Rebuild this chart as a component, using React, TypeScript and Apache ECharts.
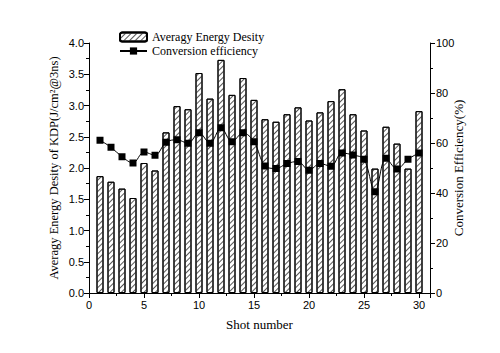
import React, { useEffect, useRef } from "react";
import * as echarts from "echarts";

const shots = [1,2,3,4,5,6,7,8,9,10,11,12,13,14,15,16,17,18,19,20,21,22,23,24,25,26,27,28,29,30];
const energyDensity = [1.87,1.78,1.67,1.52,2.08,1.96,2.57,2.99,2.94,3.52,3.11,3.73,3.17,3.44,3.09,2.78,2.74,2.86,2.97,2.76,2.89,3.07,3.26,2.86,2.60,1.99,2.66,2.39,1.99,2.91];
const conversionEff = [61.1,58.3,54.5,52.0,56.4,55.1,60.3,61.3,59.9,64.1,59.9,66.1,60.5,64.1,60.5,50.8,49.8,51.8,52.6,49.1,51.8,50.7,56.0,55.2,53.5,40.5,53.9,49.6,53.5,56.0];
const xTicks = [0,5,10,15,20,25,30];

const serif = "Liberation Serif";
const sans = "Liberation Sans";

export default function App() {
  const ref = useRef<HTMLDivElement>(null);
  useEffect(() => {
    if (!ref.current) return;
    const chart = echarts.init(ref.current, null, { renderer: "svg" });
    const axisCommon = {
      axisLine: { show: true, lineStyle: { color: "#000", width: 1 } },
      axisTick: { show: true, inside: false, length: 5, lineStyle: { color: "#000" } },
      minorTick: { show: true, splitNumber: 2, length: 3, lineStyle: { color: "#000" } },
      splitLine: { show: false },
      axisLabel: { color: "#000", fontFamily: sans, fontSize: 11 },
      nameTextStyle: { color: "#000", fontFamily: serif, fontSize: 13 },
      nameMoveOverlap: false,
    };
    chart.setOption({
      animation: false,
      backgroundColor: "#fff",
      grid: { left: 89, right: 70, top: 43, bottom: 60 },
      legend: {
        orient: "vertical",
        left: 114,
        top: 26,
        itemGap: 2,
        itemWidth: 27,
        itemHeight: 9,
        textStyle: { color: "#000", fontFamily: serif, fontSize: 12, lineHeight: 12 },
        data: ["Averagy Energy Desity", "Conversion efficiency"],
      },
      xAxis: {
        type: "value",
        min: 0,
        max: 31,
        interval: 5,
        name: "Shot number",
        nameLocation: "middle",
        nameGap: 25,
        ...axisCommon,
        axisLabel: {
          ...axisCommon.axisLabel,
          margin: 6,
          formatter: (v: number) => (xTicks.includes(v) ? String(v) : ""),
        },
      },
      yAxis: [
        {
          type: "value",
          min: 0,
          max: 4,
          interval: 0.5,
          name: "Averagy Energy Desity of KDP(J/cm²@3ns)",
          nameLocation: "middle",
          nameGap: 29,
          nameRotate: 90,
          ...axisCommon,
          nameTextStyle: { color: "#000", fontFamily: serif, fontSize: 12.5 },
          axisLabel: { ...axisCommon.axisLabel, margin: 5, formatter: (v: number) => v.toFixed(1) },
        },
        {
          type: "value",
          min: 0,
          max: 100,
          interval: 20,
          position: "right",
          name: "Conversion Efficiency(%)",
          nameLocation: "middle",
          nameGap: 22,
          nameRotate: 90,
          ...axisCommon,
          axisLabel: { ...axisCommon.axisLabel, margin: 6 },
        },
      ],
      series: [
        {
          name: "Averagy Energy Desity",
          type: "bar",
          yAxisIndex: 0,
          barWidth: 7,
          data: shots.map((s, i) => [s, energyDensity[i]]),
          itemStyle: {
            color: "#fff",
            borderColor: "#000",
            borderWidth: 1,
            decal: {
              symbol: "rect",
              dashArrayX: [1, 0],
              dashArrayY: [1, 3],
              rotation: -Math.PI / 4,
              color: "#555",
              backgroundColor: "#fff",
            },
          },
        },
        {
          name: "Conversion efficiency",
          type: "line",
          yAxisIndex: 1,
          smooth: 0.35,
          symbol: "rect",
          symbolSize: 7,
          data: shots.map((s, i) => [s, conversionEff[i]]),
          lineStyle: { color: "#000", width: 1 },
          itemStyle: { color: "#000" },
          z: 5,
        },
      ],
    });
    return () => chart.dispose();
  }, []);
  return (
    <div
      ref={ref}
      style={{ position: "fixed", left: 0, top: 0, width: 500, height: 353 }}
    />
  );
}
